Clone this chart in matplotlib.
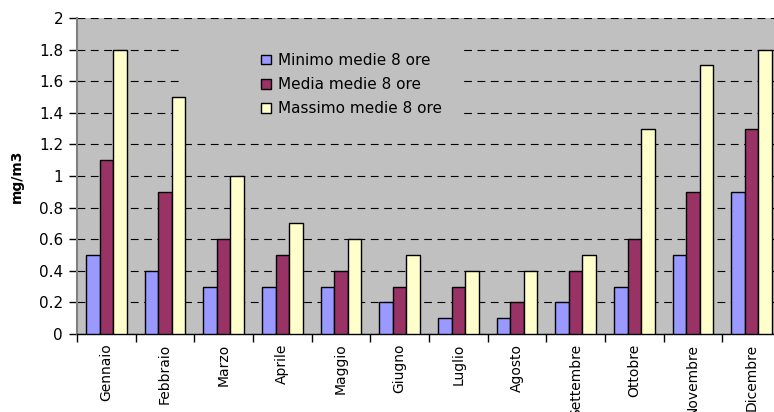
import matplotlib
matplotlib.use("Agg")
import matplotlib.pyplot as plt
from matplotlib.patches import Rectangle
import numpy as np

months = ["Gennaio", "Febbraio", "Marzo", "Aprile", "Maggio", "Giugno",
          "Luglio", "Agosto", "Settembre", "Ottobre", "Novembre", "Dicembre"]
minimo = [0.5, 0.4, 0.3, 0.3, 0.3, 0.2, 0.1, 0.1, 0.2, 0.3, 0.5, 0.9]
media = [1.1, 0.9, 0.6, 0.5, 0.4, 0.3, 0.3, 0.2, 0.4, 0.6, 0.9, 1.3]
massimo = [1.8, 1.5, 1.0, 0.7, 0.6, 0.5, 0.4, 0.4, 0.5, 1.3, 1.7, 1.8]
series_labels = ["Minimo medie 8 ore", "Media medie 8 ore", "Massimo medie 8 ore"]
colors = ["#9999ff", "#993366", "#ffffcc"]

plt.rcParams['font.family'] = ['DejaVu Sans']

fig = plt.figure(figsize=(7.74, 4.12), dpi=100)
ax = fig.add_axes([77 / 774, 78 / 412, 704 / 774, 316 / 412])
ax.set_facecolor("#c0c0c0")

x = np.arange(len(months))
w = 0.232
for j, (vals, lab, c) in enumerate(zip([minimo, media, massimo], series_labels, colors)):
    ax.bar(x + (j - 1) * w, vals, width=w, color=c, edgecolor="black",
           linewidth=1.0, label=lab, zorder=3)

# gray box behind the legend hides the gridlines
ax.add_patch(Rectangle((0.146, 0.661), 0.398, 0.301, transform=ax.transAxes,
                       facecolor="#c0c0c0", edgecolor="none", zorder=2))

ax.set_xlim(-0.5, len(months) - 0.5)
ax.set_ylim(0, 2)
ax.set_yticks(np.arange(0, 2.01, 0.2))
ax.set_yticklabels(["0", "0.2", "0.4", "0.6", "0.8", "1", "1.2", "1.4", "1.6", "1.8", "2"])
ax.yaxis.grid(True, color="black", linestyle=(0, (7, 5)), linewidth=0.8, zorder=1)
ax.set_axisbelow(True)

ax.set_xticks(x)
ax.set_xticklabels(months, rotation=90, fontsize=10, va="top")
ax.set_xticks(np.arange(-0.5, len(months), 1), minor=True)
ax.tick_params(axis="x", which="major", length=0, pad=7)
ax.tick_params(axis="x", which="minor", length=6, width=1, color="black")
ax.tick_params(axis="y", length=6, width=1, color="black", labelsize=11, pad=4)

ax.spines["top"].set_visible(False)
ax.spines["right"].set_visible(False)
ax.spines["left"].set_color("#808080")
ax.spines["left"].set_linewidth(1.5)
ax.spines["bottom"].set_color("black")
ax.spines["bottom"].set_linewidth(1.0)

ax.set_ylabel("mg/m3", fontsize=10, fontweight="bold")
ax.yaxis.set_label_coords(-0.076, 0.5)

ax.legend(loc="upper left", bbox_to_anchor=(0.262, 0.89), frameon=False,
          fontsize=11, handlelength=0.6, handleheight=0.6, handletextpad=0.5,
          labelspacing=0.61, borderpad=0, borderaxespad=0)

fig.savefig("out.png", dpi=100)
